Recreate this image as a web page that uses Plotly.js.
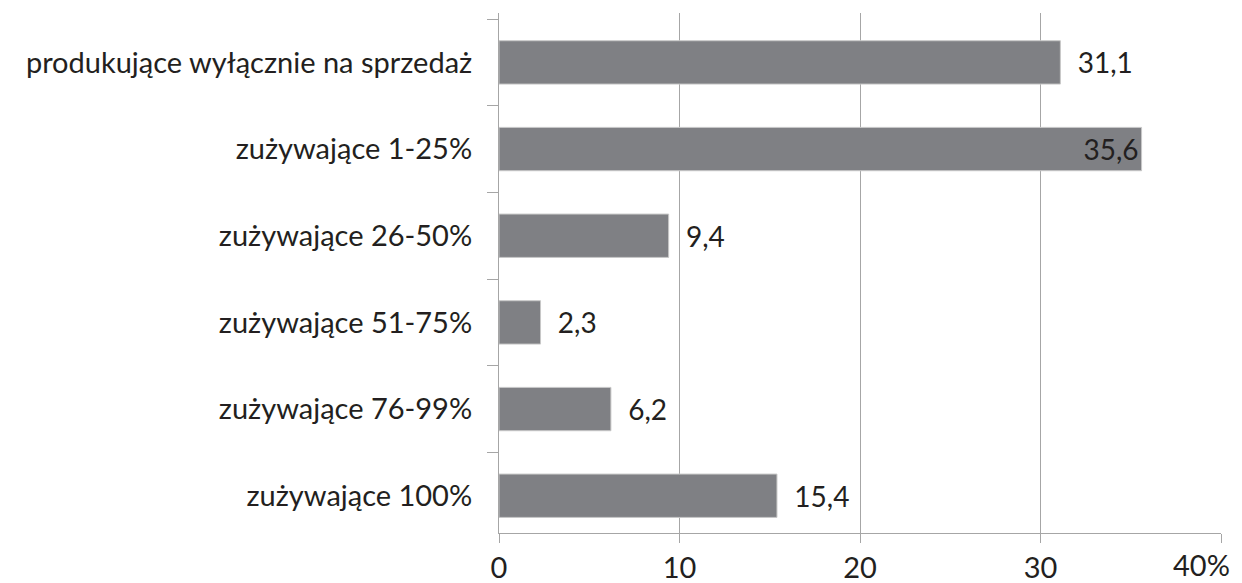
<!DOCTYPE html>
<html>
<head>
<meta charset="utf-8">
<script src="https://cdn.plot.ly/plotly-3.0.1.min.js"></script>
<style>html,body{margin:0;padding:0;background:#fff;}#chart{width:1242px;height:583px;}</style>
</head>
<body>
<div id="chart"></div>
<script>
const categories = [
  "produkujące wyłącznie na sprzedaż",
  "zużywające 1-25%",
  "zużywające 26-50%",
  "zużywające 51-75%",
  "zużywające 76-99%",
  "zużywające 100%"
];
const values = [31.1, 35.6, 9.4, 2.3, 6.2, 15.4];
const labelPositions = ["outside", "inside", "outside", "outside", "outside", "outside"];
const tickValues = [0, 10, 20, 30, 40];
const tickLabels = ["0", "10", "20", "30", "40%"];

const NB = "\u00a0\u00a0";
const labels = values.map((v, i) => {
  const s = v.toFixed(1).replace(".", ",");
  return labelPositions[i] === "outside" ? NB + s : s;
});

const FONT = "Lato, 'Open Sans', sans-serif";
const TXT = "#231f20";
const AX = "#a6a6a6";

const lastIdx = tickValues.length - 1;
const shownTickText = tickLabels.map((t, i) => (i === lastIdx ? "" : t));

const trace = {
  type: "bar",
  orientation: "h",
  y: categories,
  x: values,
  text: labels,
  textposition: labelPositions,
  insidetextanchor: "end",
  cliponaxis: false,
  textfont: {family: FONT, size: 28, color: TXT},
  insidetextfont: {family: FONT, size: 28, color: TXT},
  outsidetextfont: {family: FONT, size: 28, color: TXT},
  marker: {color: "#7f8084", line: {color: "#c8c8c8", width: 1}},
  width: 0.5,
  hoverinfo: "none"
};

const layout = {
  width: 1242,
  height: 583,
  margin: {l: 499, r: 21, t: 13, b: 50},
  paper_bgcolor: "#ffffff",
  plot_bgcolor: "#ffffff",
  showlegend: false,
  font: {family: FONT, color: TXT},
  xaxis: {
    range: [0, 40],
    tickmode: "array",
    tickvals: tickValues,
    ticktext: shownTickText,
    showgrid: true,
    gridcolor: AX,
    gridwidth: 1,
    zeroline: false,
    showline: true,
    linecolor: AX,
    linewidth: 1,
    ticks: "outside",
    ticklen: 9,
    tickcolor: AX,
    tickfont: {family: FONT, size: 29, color: TXT},
    ticklabelstandoff: 0,
    automargin: false,
    fixedrange: true
  },
  yaxis: {
    type: "category",
    range: [5.43, -0.57],
    showgrid: false,
    zeroline: false,
    showline: true,
    linecolor: AX,
    linewidth: 1,
    ticks: "outside",
    tickson: "boundaries",
    ticklen: 11,
    tickcolor: AX,
    tickfont: {family: FONT, size: 29, color: TXT},
    ticklabelstandoff: 20,
    automargin: false,
    fixedrange: true
  },
  annotations: [{
    x: tickValues[lastIdx],
    xref: "x",
    y: 0,
    yref: "paper",
    xanchor: "right",
    yanchor: "top",
    xshift: 11,
    yshift: -12,
    text: tickLabels[lastIdx],
    showarrow: false,
    font: {family: FONT, size: 29, color: TXT}
  }]
};

Plotly.newPlot("chart", [trace], layout, {displayModeBar: false, staticPlot: true});
</script>
</body>
</html>
